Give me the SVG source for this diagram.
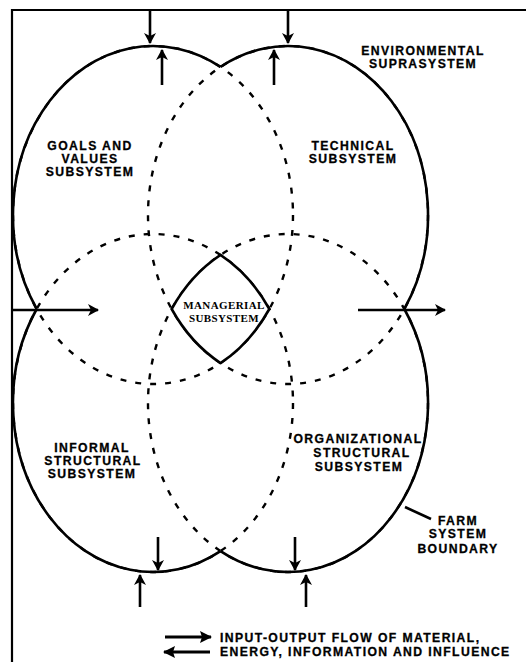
<svg xmlns="http://www.w3.org/2000/svg" width="526" height="662" viewBox="0 0 526 662">
<style>
.dash{fill:none;stroke:#000;stroke-width:2.4;stroke-dasharray:6 9}
.solid{fill:none;stroke:#000;stroke-width:2.6}
.lbl{font-family:"Liberation Sans",Arial,sans-serif;font-weight:bold;font-size:12.2px;letter-spacing:1.4px;fill:#000;text-anchor:middle;stroke:#000;stroke-width:0.3}
.serif{font-family:"Liberation Serif","Times New Roman",serif;font-weight:bold;font-size:11px;letter-spacing:0.4px;fill:#000;text-anchor:middle}
.arr{stroke:#000;stroke-width:2.6;fill:none;marker-end:url(#ah)}
.arr2{stroke:#000;stroke-width:3.2;fill:none;marker-end:url(#ah2)}
</style>
<defs>
<marker id="ah" viewBox="0 0 11 12" refX="10" refY="6" markerWidth="11" markerHeight="12" markerUnits="userSpaceOnUse" orient="auto">
<path d="M0,0 L11,6 L0,12 L3,6 Z" fill="#000"/>
</marker>
<marker id="ah2" viewBox="0 0 12 12" refX="11" refY="6" markerWidth="12" markerHeight="12" markerUnits="userSpaceOnUse" orient="auto">
<path d="M0,0 L12,6 L0,12 L2,6 Z" fill="#000"/>
</marker>
</defs>
<rect width="526" height="662" fill="#fff"/>
<g id="frame">
<path d="M12,662 L12,10 L526,10" fill="none" stroke="#000" stroke-width="2.2"/>
<text class="lbl" x="423" y="55">ENVIRONMENTAL</text>
<text class="lbl" x="423" y="68">SUPRASYSTEM</text>
</g>
<g id="goals-values">
<ellipse class="dash" cx="153" cy="215" rx="140" ry="169"/>
<path class="solid" d="M36.65,309 A140,169 0 0 1 220.5,66.94"/>
<text class="lbl" x="90" y="150">GOALS AND</text>
<text class="lbl" x="90" y="163">VALUES</text>
<text class="lbl" x="90" y="176">SUBSYSTEM</text>
</g>
<g id="technical">
<ellipse class="dash" cx="288" cy="215" rx="140" ry="169"/>
<path class="solid" d="M220.5,66.94 A140,169 0 0 1 404.35,309"/>
<text class="lbl" x="353" y="150">TECHNICAL</text>
<text class="lbl" x="353" y="163">SUBSYSTEM</text>
</g>
<g id="informal-structural">
<ellipse class="dash" cx="153" cy="403" rx="140" ry="169"/>
<path class="solid" d="M220.5,551.06 A140,169 0 0 1 36.65,309"/>
<text class="lbl" x="92" y="452">INFORMAL</text>
<text class="lbl" x="93" y="465">STRUCTURAL</text>
<text class="lbl" x="92" y="478">SUBSYSTEM</text>
</g>
<g id="organizational-structural">
<ellipse class="dash" cx="288" cy="403" rx="140" ry="169"/>
<path class="solid" d="M404.35,309 A140,169 0 0 1 220.5,551.06"/>
<text class="lbl" x="358" y="443">ORGANIZATIONAL</text>
<text class="lbl" x="362" y="457">STRUCTURAL</text>
<text class="lbl" x="359" y="471">SUBSYSTEM</text>
</g>
<g id="managerial">
<path d="M171.65,309 A140,169 0 0 1 220.5,254.94 A140,169 0 0 1 269.35,309 A140,169 0 0 1 220.5,363.06 A140,169 0 0 1 171.65,309 Z" fill="#fff" stroke="#000" stroke-width="2.6"/>
<text class="serif" x="224" y="308.5">MANAGERIAL</text>
<text class="serif" x="224" y="321.5">SUBSYSTEM</text>
</g>
<g id="farm-boundary-label">
<line x1="405" y1="507" x2="431" y2="519" stroke="#000" stroke-width="2.6"/>
<text class="lbl" x="458" y="525">FARM</text>
<text class="lbl" x="458" y="538">SYSTEM</text>
<text class="lbl" x="458" y="553">BOUNDARY</text>
</g>
<g id="connectors">
<line class="arr" x1="150" y1="10" x2="150" y2="43"/>
<line class="arr" x1="162" y1="85" x2="162" y2="50"/>
<line class="arr" x1="288" y1="10" x2="288" y2="43"/>
<line class="arr" x1="274" y1="85" x2="274" y2="50"/>
<line class="arr" x1="12" y1="310" x2="98" y2="310"/>
<line class="arr" x1="358" y1="310" x2="445" y2="310"/>
<line class="arr" x1="158" y1="537" x2="158" y2="570"/>
<line class="arr" x1="140" y1="607" x2="140" y2="575"/>
<line class="arr" x1="295" y1="537" x2="295" y2="570"/>
<line class="arr" x1="306" y1="607" x2="306" y2="575"/>
</g>
<g id="legend">
<line class="arr2" x1="165" y1="637" x2="211" y2="637"/>
<line class="arr2" x1="210" y1="652" x2="164" y2="652"/>
<text class="lbl" x="220" y="642" style="text-anchor:start">INPUT-OUTPUT FLOW OF MATERIAL,</text>
<text class="lbl" x="220" y="656" style="text-anchor:start">ENERGY, INFORMATION AND INFLUENCE</text>
</g>
</svg>
